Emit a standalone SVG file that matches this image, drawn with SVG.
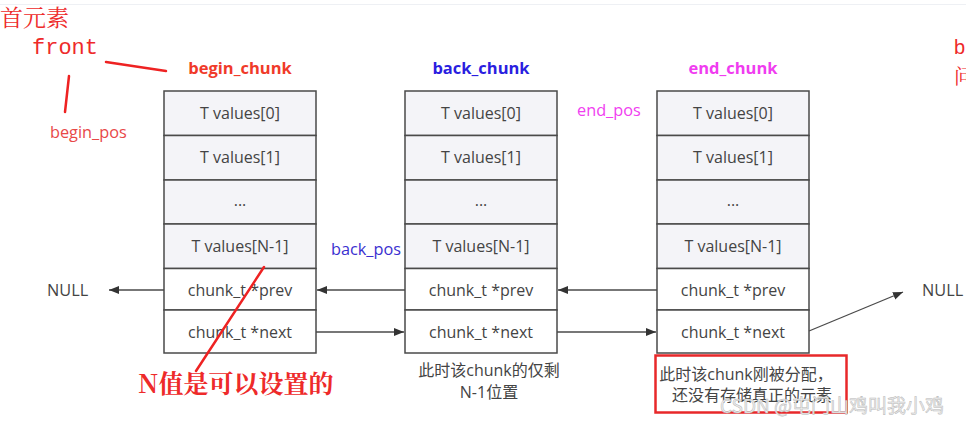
<svg xmlns="http://www.w3.org/2000/svg" width="966" height="425" viewBox="0 0 966 425">
<style>
.cell{fill:#f4f4f8;stroke:#4a4a4a;stroke-width:1.5}
.wcell{fill:#ffffff;stroke:#4a4a4a;stroke-width:1.5}
.t{font-family:"Open Sans","Noto Sans",sans-serif;font-size:16px;fill:#444;text-anchor:middle}
.lbl{font-family:"Open Sans","Noto Sans",sans-serif;font-size:16.3px}
.ttl{font-family:"Open Sans","Noto Sans",sans-serif;font-size:16.5px;font-weight:bold;text-anchor:middle}
.cn{font-family:"Open Sans","Noto Sans CJK SC",sans-serif;font-size:16px;fill:#444;text-anchor:middle}
.conn{stroke:#4a4a4a;stroke-width:1.3;fill:none;marker-end:url(#ah)}
.hand{stroke:#ee2222;stroke-width:2.5;fill:none;stroke-linecap:round}
.red{font-family:"Noto Serif CJK SC","Liberation Serif","Noto Sans CJK SC",serif;fill:#ee2a2a}
</style>
<defs>
<marker id="ah" viewBox="0 0 10 10" refX="10" refY="5" markerWidth="10" markerHeight="10" markerUnits="userSpaceOnUse" orient="auto">
<path d="M0,1 L10,5 L0,9 Z" fill="#333"/>
</marker>
<g id="chunkTpl">
<rect class="cell" x="0" y="0" width="152" height="44.5"/>
<rect class="cell" x="0" y="44.5" width="152" height="44.5"/>
<rect class="cell" x="0" y="89" width="152" height="44"/>
<rect class="cell" x="0" y="133" width="152" height="44.5"/>
<rect class="wcell" x="0" y="177.5" width="152" height="41.5"/>
<rect class="wcell" x="0" y="219" width="152" height="43"/>
<text class="t" x="76" y="28">T values[0]</text>
<text class="t" x="76" y="72">T values[1]</text>
<text class="t" x="76" y="115">...</text>
<text class="t" x="76" y="160.5">T values[N-1]</text>
<text class="t" x="76" y="204.5">chunk_t *prev</text>
<text class="t" x="76" y="246.5">chunk_t *next</text>
</g>
</defs>
<rect width="966" height="425" fill="#fff"/>
<line x1="0" y1="4.5" x2="966" y2="4.5" stroke="#eef0f4" stroke-width="1"/>

<g id="begin_chunk">
<use href="#chunkTpl" x="164" y="91"/>
<text class="ttl" x="240" y="74" fill="#f03a2a">begin_chunk</text>
</g>
<g id="back_chunk">
<use href="#chunkTpl" x="405" y="91"/>
<text class="ttl" x="481" y="74" fill="#2a1ee0">back_chunk</text>
</g>
<g id="end_chunk">
<use href="#chunkTpl" x="657" y="91"/>
<text class="ttl" x="733" y="74" fill="#f03cf0">end_chunk</text>
</g>
<g id="null_left"><text class="lbl" x="47" y="296" fill="#444">NULL</text></g>
<g id="null_right"><text class="lbl" x="922" y="296" fill="#444">NULL</text></g>

<g id="connectors">
<line class="conn" x1="164" y1="290" x2="109" y2="290"/>
<line class="conn" x1="405" y1="290" x2="317" y2="290"/>
<line class="conn" x1="657" y1="290" x2="558" y2="290"/>
<line class="conn" x1="316" y1="332" x2="404" y2="332"/>
<line class="conn" x1="557" y1="332" x2="656" y2="332"/>
<line class="conn" x1="809" y1="331" x2="903" y2="292"/>
</g>

<g id="labels">
<text class="lbl" x="577" y="116" fill="#f040f0">end_pos</text>
<text class="lbl" x="331" y="255" fill="#3a30d0">back_pos</text>
<text class="lbl" x="50" y="138" fill="#e84848">begin_pos</text>
<text class="cn" x="489" y="376">此时该chunk的仅剩</text>
<text class="cn" x="489" y="398">N-1位置</text>
</g>

<g id="note_box">
<rect x="655.5" y="355.5" width="191" height="57" fill="none" stroke="#e8282a" stroke-width="2.5"/>
<text class="cn" x="746" y="380" font-size="15.5" fill="#333">此时该chunk刚被分配，</text>
<text class="cn" x="752" y="401" font-size="15.5" fill="#333">还没有存储真正的元素</text>
</g>

<g id="annotations">
<text class="red" x="0" y="26" font-size="23">首元素</text>
<text x="32" y="54" font-family="Liberation Mono,monospace" font-size="22" fill="#ee2a2a">front</text>
<path class="hand" d="M106,62 L166,71"/>
<path class="hand" d="M69,76 L65,112"/>
<path class="hand" d="M264,267 L196,371"/>
<text class="red" x="138" y="393" font-size="25" font-weight="bold">N值是可以设置的</text>
<text x="954" y="54" font-family="Liberation Sans,sans-serif" font-size="20" fill="#ee2a2a">b</text>
<text class="red" x="954" y="84" font-size="20">问</text>
</g>

<text x="720" y="413" font-family="Noto Sans CJK SC,sans-serif" font-size="19" fill="#eeeeee" stroke="#b8b8b8" stroke-width="0.5">CSDN @屯门山鸡叫我小鸡</text>
</svg>
